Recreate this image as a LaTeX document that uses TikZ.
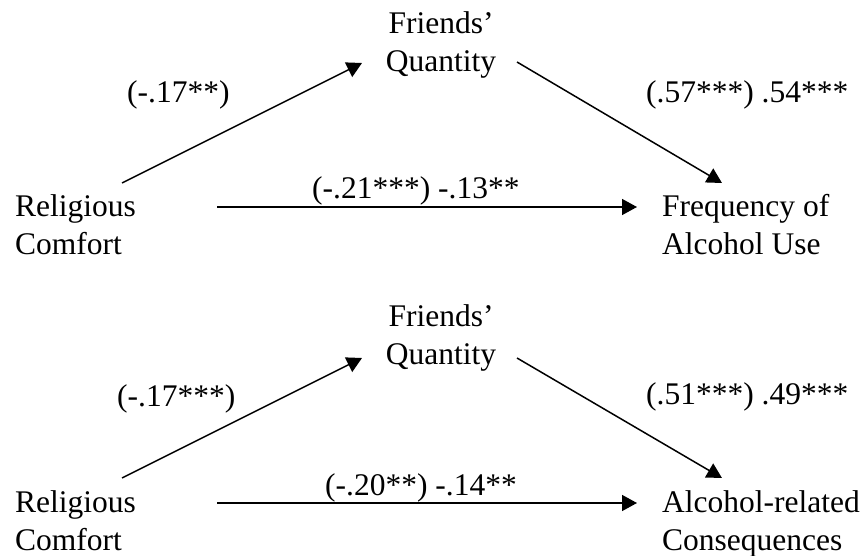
\documentclass[tikz,border=0pt]{standalone}
\usepackage{fontspec}
\setmainfont{Liberation Serif}
\usetikzlibrary{arrows.meta}
\begin{document}
\begin{tikzpicture}[x=1pt,y=-1pt,
  lbl/.style={inner sep=0pt,anchor=base west,font=\fontsize{31.5}{37.5}\selectfont},
  var/.style={inner sep=0pt,align=left,font=\fontsize{31.5}{37.5}\selectfont},
  arr/.style={line width=1.5pt,-{Triangle[length=15pt,width=16pt]}}]
\useasboundingbox (0,0) rectangle (868,556);
% ---------- top model ----------
\node[var,anchor=north west] (rc1) at (15,194.5) {Religious\\Comfort};
\node[var,align=center,anchor=north] (fq1) at (441,11.5) {Friends’\\Quantity};
\node[var,anchor=north west] (fa1) at (662,194.5) {Frequency of\\Alcohol Use};
\coordinate (a1s) at (122,183);  \coordinate (a1e) at (362,63);
\coordinate (b1s) at (517,62);   \coordinate (b1e) at (722,183);
\coordinate (c1s) at (217,207);  \coordinate (c1e) at (637,207);
\draw[arr] (a1s) -- (a1e);
\draw[arr] (b1s) -- (b1e);
\draw[arr] (c1s) -- (c1e);
\node[lbl] (l1a) at (127,103) {(-.17**)};
\node[lbl] (l1b) at (646,103) {(.57***) .54***};
\node[lbl] (l1c) at (312,199) {(-.21***) -.13**};
% ---------- bottom model ----------
\node[var,anchor=north west] (rc2) at (15,490.5) {Religious\\Comfort};
\node[var,align=center,anchor=north] (fq2) at (441,304.5) {Friends’\\Quantity};
\node[var,anchor=north west] (ac2) at (662,490.5) {Alcohol-related\\Consequences};
\coordinate (a2s) at (122,478);  \coordinate (a2e) at (362,358);
\coordinate (b2s) at (517,358);  \coordinate (b2e) at (722,478);
\coordinate (c2s) at (217,503);  \coordinate (c2e) at (637,503);
\draw[arr] (a2s) -- (a2e);
\draw[arr] (b2s) -- (b2e);
\draw[arr] (c2s) -- (c2e);
\node[lbl] (l2a) at (117,406) {(-.17***)};
\node[lbl] (l2b) at (646,404) {(.51***) .49***};
\node[lbl] (l2c) at (325,495) {(-.20**) -.14**};
\end{tikzpicture}
\end{document}
